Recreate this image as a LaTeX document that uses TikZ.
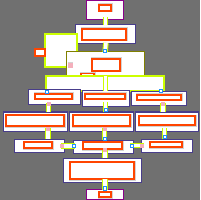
\documentclass[tikz,border=0pt]{standalone}
\definecolor{bgc}{HTML}{707070}
\definecolor{slatec}{HTML}{483D8B}
\definecolor{magc}{HTML}{8B008B}
\definecolor{olivec}{HTML}{808000}
\definecolor{limec}{HTML}{CCFF00}
\definecolor{orc}{HTML}{FF4500}
\definecolor{haloc}{HTML}{D3D3D3}
\definecolor{pinkc}{HTML}{F4B0BC}
\definecolor{bluec}{HTML}{1E90FF}
\begin{document}
\begin{tikzpicture}[x=1pt,y=-1pt,
  base/.style={fill=white, line width=1pt, inner sep=0pt, outer sep=0pt},
  box/.style={base, draw=slatec},
  endbox/.style={base, draw=magc},
  olivebox/.style={base, draw=olivec},
  limebox/.style={base, draw=limec, line width=1.2pt},
  inner/.style={base, draw=orc, line width=1.1pt, preaction={draw=haloc, line width=3pt}},
  plainor/.style={base, draw=orc, line width=1.1pt},
  conn/.style={draw=limec, line width=1pt, double=white, double distance=3.5pt},
  pmark/.style={fill=pinkc, draw=pinkc, inner sep=0pt, minimum size=3pt},
  bmark/.style={fill=white, draw=bluec, line width=0.8pt, inner sep=0pt, minimum size=3.2pt}]
\fill[bgc] (0,0) rectangle (200,200);
\useasboundingbox (0,0) rectangle (200,200);
% top
\node[endbox, minimum width=37pt, minimum height=19pt] (top) at (104.5,10.5) {};
\node[inner, minimum width=12pt, minimum height=6pt] (topi) at (105,8) {};
% second
\node[box, minimum width=60pt, minimum height=19pt] (b2) at (105,34.5) {};
\node[inner, minimum width=44pt, minimum height=11pt] (b2i) at (104,34.5) {};
% lime left shape and small orange
\node[limebox, minimum width=32pt, minimum height=33pt] (limeL) at (61,50.5) {};
\node[plainor, minimum width=10pt, minimum height=7pt] (orL) at (40,52.5) {};
% olive
\node[olivebox, minimum width=78pt, minimum height=25pt] (olive) at (105,64.5) {};
\node[inner, minimum width=28pt, minimum height=12pt] (olivei) at (106,65) {};
\node[pmark, minimum size=3.5pt, preaction={draw=haloc, line width=1.5pt}] (opink) at (70,65) {};
\node[inner, minimum width=13pt, minimum height=6pt] (orS) at (87.5,76.5) {};
% lime big
\node[limebox, minimum width=118pt, minimum height=15pt] (limeB) at (105,83.5) {};
% row 1
\node[box, minimum width=52pt, minimum height=15pt] (r1L) at (54,97.5) {};
\node[inner, minimum width=37pt, minimum height=5pt] (r1Li) at (53.5,96.5) {};
\node[box, minimum width=47pt, minimum height=16pt] (r1M) at (105.5,99) {};
\node[inner, minimum width=40pt, minimum height=5pt] (r1Mi) at (105,96.5) {};
\node[box, minimum width=55pt, minimum height=14pt] (r1R) at (158.5,99) {};
\node[inner, minimum width=44pt, minimum height=5pt] (r1Ri) at (159,97.5) {};
% row 2
\node[box, minimum width=64pt, minimum height=19pt] (r2L) at (35,121.5) {};
\node[inner, minimum width=58pt, minimum height=11pt] (r2Li) at (35,120.5) {};
\node[box, minimum width=64pt, minimum height=19pt] (r2M) at (101,121.5) {};
\node[inner, minimum width=57pt, minimum height=11pt] (r2Mi) at (101.5,120.5) {};
\node[box, minimum width=63pt, minimum height=19pt] (r2R) at (166.5,121.5) {};
\node[inner, minimum width=56pt, minimum height=9pt] (r2Ri) at (167,120.5) {};
% row 3
\node[box, minimum width=50pt, minimum height=13pt] (r3L) at (39,145.5) {};
\node[inner, minimum width=28pt, minimum height=6pt] (r3Li) at (38,145) {};
\node[box, minimum width=60pt, minimum height=13pt] (r3M) at (103,146.5) {};
\node[inner, minimum width=39pt, minimum height=7pt] (r3Mi) at (102.5,145.5) {};
\node[box, minimum width=51pt, minimum height=13pt] (r3R) at (166.5,145.5) {};
\node[inner, minimum width=32pt, minimum height=5pt] (r3Ri) at (166,144.5) {};
% row 4
\node[box, minimum width=78pt, minimum height=24pt] (r4) at (102,170) {};
\node[inner, minimum width=64pt, minimum height=17pt] (r4i) at (102,170.5) {};
% bottom
\node[endbox, minimum width=37pt, minimum height=10pt] (bot) at (104.5,194.5) {};
\node[inner, minimum width=12pt, minimum height=5pt] (boti) at (105,194.5) {};
% connectors
\draw[conn] ([xshift=1pt,yshift=3pt]top.south) -- ([xshift=0.5pt]b2.north);
\draw[conn] ([xshift=1pt,yshift=1pt]b2.south) -- (olive.north) node[pos=0.86, bmark] (m2) {};
\draw[conn] ([xshift=0.5pt,yshift=1pt]olive.south) -- (r1M.north);
\node[bmark] (mL) at (47,92) {};
\node[bmark] (mR) at (161,91) {};
\draw[conn] ([xshift=-5.5pt,yshift=2pt]r1L.south) -- ([xshift=13.5pt]r2L.north) node[pos=0.12, pmark] (p4) {};
\draw[conn] ([yshift=5pt]r1M.south) -- ([xshift=4.5pt]r2M.north) node[pos=0.8, bmark] (m5) {};
\draw[conn] ([xshift=4.5pt,yshift=3pt]r1R.south) -- ([xshift=-3.5pt]r2R.north) node[pos=0.08, pmark] (p6) {};
\draw[conn] ([xshift=13pt,yshift=3pt]r2L.south) -- ([xshift=9pt]r3L.north) node[pos=0.06, pmark] (p7) {};
\draw[conn] ([xshift=3.5pt,yshift=3pt]r2M.south) -- ([xshift=1.5pt]r3M.north) node[pos=0.06, pmark] (p8) {} node[pos=0.9, bmark] (m8) {};
\draw[conn] ([xshift=-2pt,yshift=3pt]r2R.south) -- ([xshift=-2pt]r3R.north) node[pos=0.82, bmark] (m9) {};
\draw[conn] ([xshift=-3pt,yshift=-0.5pt]r3L.east) -- ([xshift=2pt,yshift=0.5pt]r3M.west) node[pos=0.06, pmark] (p10) {} node[pos=0.93, bmark] (m10) {};
\draw[conn] ([xshift=3pt]r3R.west) -- ([xshift=-3pt,yshift=1pt]r3M.east) node[pos=0.15, pmark] (p11) {} node[pos=0.86, bmark] (m11) {};
\draw[conn] ([xshift=2pt,yshift=3pt]r3M.south) -- ([xshift=3pt]r4.north) node[pos=0.06, pmark] (p12) {};
\draw[conn] ([xshift=3pt,yshift=3pt]r4.south) -- ([xshift=0.5pt]bot.north) node[pos=0.9, bmark] (m13) {};
\end{tikzpicture}
\end{document}
